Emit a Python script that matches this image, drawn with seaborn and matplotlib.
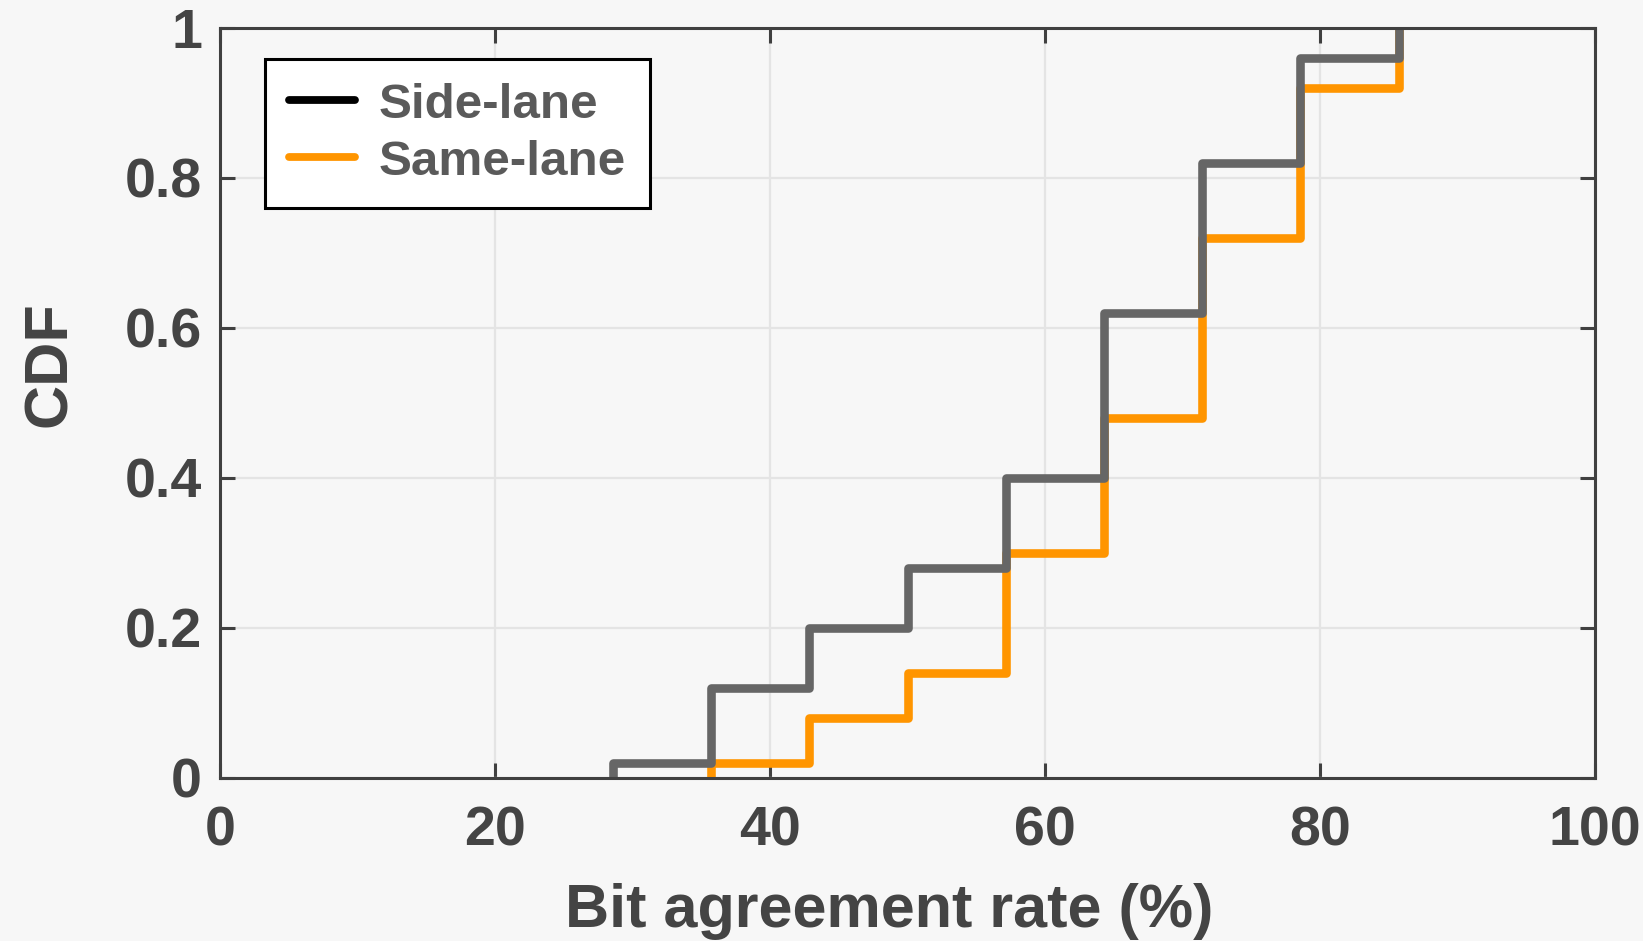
import numpy as np
import pandas as pd
import matplotlib
matplotlib.use("Agg")
import matplotlib.pyplot as plt
from matplotlib.lines import Line2D
import seaborn as sns

# Bit agreement rate levels (%) and number of trials at each level
bit_rates = [28.57, 35.71, 42.86, 50.00, 57.14, 64.29, 71.43, 78.57, 85.71]
side_lane_counts = [1, 5, 4, 4, 6, 11, 10, 7, 2]
same_lane_counts = [0, 1, 3, 3, 8, 9, 12, 10, 4]

series_names = ["Side-lane", "Same-lane"]
x_ticks = [0, 20, 40, 60, 80, 100]
y_ticks = [0, 0.2, 0.4, 0.6, 0.8, 1.0]
y_tick_labels = ["0", "0.2", "0.4", "0.6", "0.8", "1"]

side_df = pd.DataFrame({"rate": bit_rates, "count": side_lane_counts})
same_df = pd.DataFrame({"rate": bit_rates, "count": same_lane_counts})
same_df = same_df[same_df["count"] > 0]

BG = "#f7f7f7"
AX_COLOR = "#404040"
TEXT_COLOR = "#444444"
GRAY = "#666666"
ORANGE = "#ff9500"
LW = 6.2
LEGEND_LW = 5.6

sns.set_theme(style="whitegrid")
plt.rcParams.update({
    "font.family": ["Liberation Sans", "DejaVu Sans"],
    "font.weight": "bold",
    "figure.facecolor": BG,
    "axes.facecolor": BG,
    "axes.edgecolor": AX_COLOR,
    "axes.linewidth": 2.2,
    "grid.color": "#e4e4e4",
    "grid.linewidth": 1.6,
})

fig = plt.figure(figsize=(16.43, 9.41), dpi=100)
ax = fig.add_axes([220 / 1643, 1 - 778 / 941, 1375 / 1643, 750 / 941])

sns.ecdfplot(data=same_df, x="rate", weights="count", color=ORANGE, ax=ax)
sns.ecdfplot(data=side_df, x="rate", weights="count", color=GRAY, ax=ax)
for ln in ax.lines:
    ln.set_linewidth(LW)
    ln.set_solid_joinstyle("round")
    ln.set_solid_capstyle("round")
    ln.set_zorder(3)

ax.set_xlim(0, 100)
ax.set_ylim(0, 1)
ax.set_xticks(x_ticks)
ax.set_yticks(y_ticks)
ax.set_yticklabels(y_tick_labels)

ax.tick_params(axis="both", which="both", direction="in", length=11, width=2.2,
               color=AX_COLOR, labelsize=40, labelcolor=TEXT_COLOR,
               top=True, right=True, bottom=True, left=True)
ax.tick_params(axis="x", pad=20)
ax.tick_params(axis="y", pad=13)
for lab in ax.get_xticklabels() + ax.get_yticklabels():
    lab.set_fontweight("bold")

for side in ["left", "right", "top", "bottom"]:
    ax.spines[side].set_visible(True)
    ax.spines[side].set_color(AX_COLOR)
    ax.spines[side].set_linewidth(2.2)
    ax.spines[side].set_zorder(5)

ax.grid(True, zorder=0)
ax.set_axisbelow(True)

ax.set_xlabel("Bit agreement rate (%)", fontsize=44, fontweight="bold",
              color=TEXT_COLOR, va="center")
ax.xaxis.set_label_coords(0.4865, -0.178)
ax.set_ylabel("CDF", fontsize=44, fontweight="bold", color=TEXT_COLOR, va="center")
ax.yaxis.set_label_coords(-0.123, 0.552)

handles = [Line2D([], [], color="black", linewidth=LEGEND_LW, solid_capstyle="round"),
           Line2D([], [], color=ORANGE, linewidth=LEGEND_LW, solid_capstyle="round")]
leg = ax.legend(handles, series_names, loc="upper left",
                bbox_to_anchor=(0.0327, 0.9587), borderaxespad=0,
                prop={"size": 35.6, "weight": "bold"}, frameon=True, fancybox=False,
                framealpha=1, facecolor="white", edgecolor="black",
                handlelength=1.35, handletextpad=0.47, labelspacing=0.24,
                borderpad=0.48)
leg.get_frame().set_linewidth(2.2)
for t in leg.get_texts():
    t.set_color("#5a5a5a")

fig.savefig("out.png", dpi=100, facecolor=BG)
